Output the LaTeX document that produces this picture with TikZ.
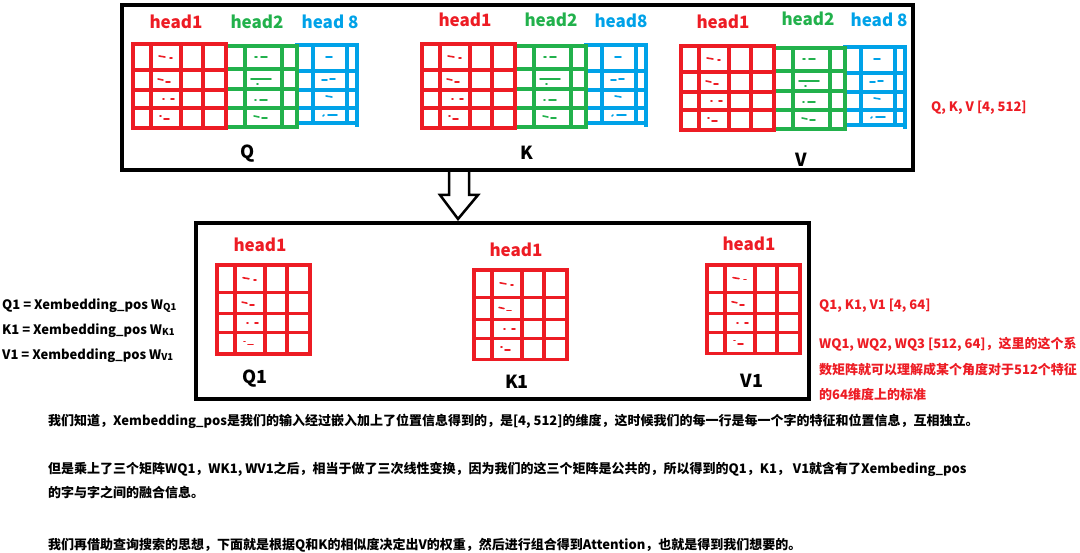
\documentclass[tikz,border=0pt]{standalone}
\usepackage{fontspec}
\setmainfont{Noto Sans CJK SC}
\definecolor{pred}{RGB}{237,28,36}
\definecolor{pgreen}{RGB}{34,177,76}
\definecolor{pblue}{RGB}{0,162,232}
\tikzset{
  gridred/.style={draw=pred, line width=3.2pt},
  gridgreen/.style={draw=pgreen, line width=3.2pt},
  gridblue/.style={draw=pblue, line width=3.2pt},
  scribble/.style={line width=1.6pt, line cap=round},
  headlabel/.style={inner sep=0pt, font=\fontsize{17}{20}\selectfont\bfseries},
  matname/.style={inner sep=0pt, font=\fontsize{18}{21}\selectfont\bfseries},
  note/.style={anchor=west, inner sep=0pt, font=\fontsize{13}{16}\selectfont\bfseries},
  frame/.style={line width=3.5pt}
}
\newcommand{\wsub}[1]{{\fontsize{9.5}{12}\selectfont\raisebox{-1pt}{#1}}}

\begin{document}
\begin{tikzpicture}[x=1pt, y=-1pt]
  \useasboundingbox (0,0) rectangle (1080,553);

  % Hollow arrow between the two frames
  \draw[line width=2.5pt, fill=white] (449,170) -- (449,195) -- (440,195) -- (458,219) -- (478,195) -- (469,195) -- (469,170);

  % Outer frames
  \draw[frame] (122,5) rectangle (913,170);
  \draw[frame] (196,223) rectangle (809,399);

  % Q, K, V matrices: head1, head2, head8
  \foreach \px/\py in {133/44, 422/44, 681/46} {
    \begin{scope}[shift={(\px,\py)}]
      % head8
      \draw[gridblue] (164,1) rectangle (224,79);
      \draw[gridblue] (224,79) -- (224,83);
      \foreach \x in {180,214} \draw[gridblue] (\x,1) -- (\x,79);
      \foreach \y in {27,46,64} \draw[gridblue] (164,\y) -- (224,\y);
      \foreach \a/\b/\c/\d in {193/13/199/13, 189/36/194/36, 197/35/202/35, 193/52/199/53, 190/72/191/71, 195/71/204/71}
        \draw[scribble, pblue] (\a,\b) -- (\c,\d);
      % head2
      \draw[gridgreen] (93,2) rectangle (164,83);
      \foreach \x in {112,149} \draw[gridgreen] (\x,2) -- (\x,83);
      \foreach \y in {25,45,64} \draw[gridgreen] (93,\y) -- (164,\y);
      \foreach \a/\b/\c/\d in {122/13/124/13, 128/13/134/13, 118/35/138/35, 124/40/125/40, 122/56/123/56, 127/56/134/56, 121/72/126/73, 129/74/134/74}
        \draw[scribble, pgreen] (\a,\b) -- (\c,\d);
      % head1
      \draw[gridred] (0,0) rectangle (93,84);
      \foreach \x in {18,48,70} \draw[gridred] (\x,0) -- (\x,84);
      \foreach \y in {26,46,64} \draw[gridred] (0,\y) -- (93,\y);
      \foreach \a/\b/\c/\d in {26/12/32/13, 37/14/39/14, 25/35/30/36, 33/38/37/38, 30/55/31/55, 38/55/41/55, 27/72/28/72, 31/75/36/75}
        \draw[scribble, pred] (\a,\b) -- (\c,\d);
    \end{scope}
  }

  % Q1, K1, V1 matrices: head1 only
  \foreach \px/\py/\s in {217/265/1.06, 474/270/1.07, 707/265/1.05} {
    \begin{scope}[shift={(\px,\py)}, yscale=\s]
      \draw[gridred] (0,0) rectangle (93,84);
      \foreach \x in {18,48,70} \draw[gridred] (\x,0) -- (\x,84);
      \foreach \y in {26,46,64} \draw[gridred] (0,\y) -- (93,\y);
      \foreach \a/\b/\c/\d in {26/12/32/13, 37/14/39/14, 25/35/30/36, 33/38/37/38, 30/55/31/55, 38/55/41/55, 27/72/28/72, 31/75/36/75}
        \draw[scribble, pred] (\a,\b) -- (\c,\d);
    \end{scope}
  }

  % Head labels
  \node[headlabel, text=pred] (qhone) at (176,22) {head1};
  \node[headlabel, text=pgreen] (qhtwo) at (257,22) {head2};
  \node[headlabel, text=pblue] (qheight) at (330,22) {head 8};
  \node[headlabel, text=pred] (khone) at (465,20) {head1};
  \node[headlabel, text=pgreen] (khtwo) at (551,20) {head2};
  \node[headlabel, text=pblue] (kheight) at (621,21) {head8};
  \node[headlabel, text=pred] (vhone) at (723,22) {head1};
  \node[headlabel, text=pgreen] (vhtwo) at (808,19) {head2};
  \node[headlabel, text=pblue] (vheight) at (879,20) {head 8};
  \node[headlabel, text=pred] (qonehead) at (260,245) {head1};
  \node[headlabel, text=pred] (konehead) at (516,250) {head1};
  \node[headlabel, text=pred] (vonehead) at (749,244) {head1};

  % Matrix names
  \node[matname] (qname) at (248,154) {Q};
  \node[matname] (kname) at (527,153) {K};
  \node[matname] (vname) at (801,160) {V};
  \node[matname] (qonename) at (255,379) {Q1};
  \node[matname] (konename) at (517,382) {K1};
  \node[matname] (vonename) at (752,381) {V1};

  % Formulas on the left
  \node[note] (qoneeq) at (2,306) {Q1 = Xembedding\_pos W\wsub{Q1}};
  \node[note] (koneeq) at (2,331) {K1 = Xembedding\_pos W\wsub{K1}};
  \node[note] (voneeq) at (2,356) {V1 = Xembedding\_pos W\wsub{V1}};

  % Shapes on the right
  \node[note, text=pred] (qkvdim) at (931,108) {Q, K, V [4, 512]};
  \node[note, text=pred] (onedim) at (819,306) {Q1, K1, V1 [4, 64]};
  \node[note, text=pred] (wone) at (819,344) {WQ1, WQ2, WQ3 [512, 64]，这里的这个系};
  \node[note, text=pred] (wtwo) at (819,370) {数矩阵就可以理解成某个角度对于512个特征};
  \node[note, text=pred] (wthree) at (819,395) {的64维度上的标准};

  % Explanation below
  \node[note] (lineone) at (48,421) {我们知道，Xembedding\_pos是我们的输入经过嵌入加上了位置信息得到的，是[4, 512]的维度，这时候我们的每一行是每一个字的特征和位置信息，互相独立。};
  \node[note] (linetwo) at (48,469) {但是乘上了三个矩阵WQ1，WK1, WV1之后，相当于做了三次线性变换，因为我们的这三个矩阵是公共的，所以得到的Q1，K1， V1就含有了Xembeding\_pos};
  \node[note] (linethree) at (48,492) {的字与字之间的融合信息。};
  \node[note] (linefour) at (48,545) {我们再借助查询搜索的思想，下面就是根据Q和K的相似度决定出V的权重，然后进行组合得到Attention，也就是得到我们想要的。};
\end{tikzpicture}
\end{document}
